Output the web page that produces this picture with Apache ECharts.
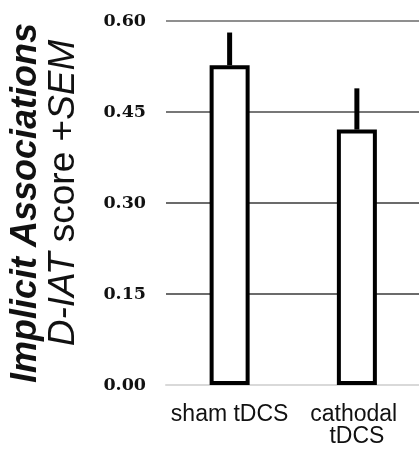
<!DOCTYPE html>
<html>
<head>
<meta charset="utf-8">
<script src="https://cdn.jsdelivr.net/npm/echarts@6/dist/echarts.min.js"></script>
<style>
  html, body { margin: 0; padding: 0; background: #fff; overflow: hidden; }
  #chart { width: 424px; height: 449px; }
</style>
</head>
<body>
<div id="chart"></div>
<script>
// Conditions, mean D-IAT scores and their standard errors
const categories = ['sham tDCS', 'cathodal tDCS'];
const meanScores = [0.527, 0.421];
const semValues = [0.054, 0.068];
const yTicks = [0.00, 0.15, 0.30, 0.45, 0.60];

const chart = echarts.init(document.getElementById('chart'), null, { renderer: 'canvas' });

const errorData = categories.map((c, i) => [i, meanScores[i], meanScores[i] + semValues[i]]);
const sans = 'Liberation Sans, Arial, sans-serif';

chart.setOption({
  animation: false,
  backgroundColor: '#ffffff',
  // plot area runs slightly past the right edge of the visible window
  grid: { left: 166, top: 21, right: 0, height: 364, containLabel: false },
  xAxis: {
    type: 'category',
    data: categories,
    axisTick: { show: false },
    axisLine: { show: true, lineStyle: { color: '#d9d9d9', width: 2 } },
    axisLabel: {
      color: '#111',
      fontFamily: sans,
      fontSize: 23,
      lineHeight: 22,
      margin: 19,
      width: 130,
      overflow: 'break',
      interval: 0
    }
  },
  yAxis: {
    type: 'value',
    min: 0,
    max: 0.6,
    interval: 0.15,
    axisLine: { show: false },
    axisTick: { show: false },
    axisLabel: {
      margin: 20,
      color: '#111',
      fontFamily: 'DejaVu Serif, serif',
      fontWeight: 'bold',
      fontSize: 17.5,
      formatter: v => {
        const t = yTicks.find(x => Math.abs(x - v) < 1e-9);
        return (t !== undefined ? t : v).toFixed(2);
      }
    },
    splitLine: {
      show: true,
      lineStyle: { color: ['#d9d9d9', '#3a3a3a', '#3a3a3a', '#4a4a4a', '#6a6a6a'], width: 1.5 }
    },
    name: '{t|Implicit Associations}\n{d|D-IAT}{r| score +}{i|SEM}',
    nameLocation: 'middle',
    nameRotate: 90,
    nameGap: 84,
    nameTextStyle: {
      align: 'center',
      rich: {
        t: { fontFamily: sans, fontSize: 36, fontWeight: 'bold', fontStyle: 'italic', color: '#111', lineHeight: 37 },
        d: { fontFamily: sans, fontSize: 37, fontStyle: 'italic', color: '#111', lineHeight: 37, padding: [0, 0, 0, 20] },
        i: { fontFamily: sans, fontSize: 37, fontStyle: 'italic', color: '#111', lineHeight: 37 },
        r: { fontFamily: sans, fontSize: 37, color: '#111', lineHeight: 37 }
      }
    }
  },
  series: [
    {
      type: 'custom',
      z: 1,
      data: errorData,
      renderItem: (params, api) => {
        const lo = api.coord([api.value(0), api.value(1)]);
        const hi = api.coord([api.value(0), api.value(2)]);
        return {
          type: 'line',
          shape: { x1: lo[0], y1: lo[1], x2: hi[0], y2: hi[1] },
          style: { stroke: '#000', lineWidth: 5 }
        };
      }
    },
    {
      type: 'bar',
      z: 2,
      data: meanScores,
      barWidth: 40,
      itemStyle: { color: '#ffffff', borderColor: '#000000', borderWidth: 4 }
    }
  ]
});
</script>
</body>
</html>
